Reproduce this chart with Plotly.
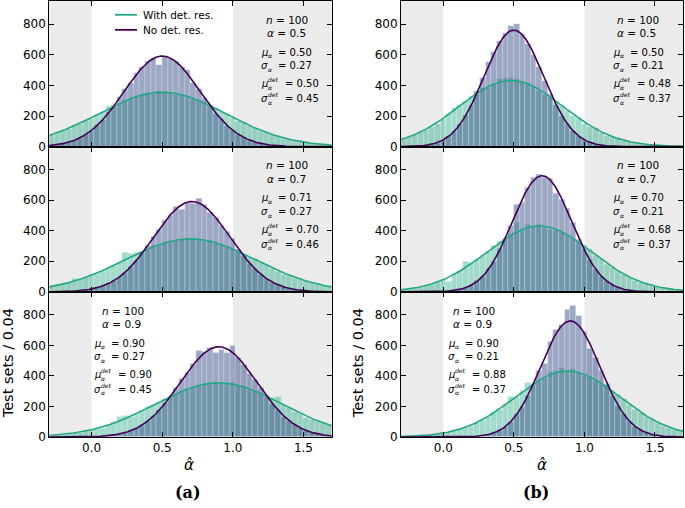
import numpy as np
import plotly.graph_objects as go
from plotly.subplots import make_subplots

W, H = 685, 508
BIN = 0.04
N_SETS = 10000
bin_centers = np.round(np.arange(-0.32, 1.7201, BIN), 2)  # 52 bin centres

# ---- histogram counts per 0.04 bin ----
a1_det = [62, 75, 95, 100, 118, 140, 148, 165, 180, 205,
          225, 268, 272, 280, 302, 312, 330, 335, 350, 345,
          360, 352, 348, 340, 335, 325, 310, 298, 290, 262,
          250, 225, 215, 188, 170, 160, 135, 125, 100, 95,
          78, 68, 55, 50, 38, 35, 25, 22, 16, 14, 10, 8]
a1_nodet = [5, 9, 13, 22, 28, 44, 57, 82, 104, 141,
            172, 224, 262, 325, 378, 418, 482, 522, 556, 580,
            532, 590, 575, 556, 520, 500, 416, 378, 315, 270,
            214, 180, 134, 108, 78, 61, 40, 31, 19, 14,
            8, 6, 3, 2, 1, 1, 0, 0, 0, 0, 0, 0]
b1_det = [40, 50, 62, 78, 95, 110, 130, 150, 178, 215,
          250, 275, 300, 330, 345, 380, 385, 410, 440, 450,
          445, 440, 420, 415, 395, 365, 340, 320, 290, 265,
          235, 200, 190, 150, 128, 125, 90, 72, 62, 50,
          40, 30, 24, 18, 14, 10, 8, 5, 4, 3, 2, 1]
b1_nodet = [0, 1, 1, 3, 5, 9, 18, 27, 46, 68,
            105, 150, 208, 270, 360, 445, 555, 615, 690, 740,
            790, 798, 735, 670, 600, 520, 430, 345, 270, 200,
            150, 100, 72, 44, 29, 16, 10, 6, 3, 2,
            1, 0, 0, 0, 0, 0, 0, 0, 0, 0, 0, 0]
a2_det = [28, 35, 45, 50, 62, 85, 80, 90, 112, 118,
          135, 150, 170, 190, 258, 250, 255, 262, 275, 300,
          305, 325, 330, 338, 340, 350, 345, 342, 330, 335,
          315, 305, 290, 285, 260, 240, 225, 215, 190, 180,
          150, 135, 115, 108, 92, 80, 70, 58, 52, 42, 35, 28]
a2_nodet = [0, 1, 1, 2, 3, 5, 8, 12, 19, 28,
            38, 55, 72, 101, 128, 168, 205, 258, 300, 362,
            405, 465, 500, 555, 540, 575, 578, 608, 570, 520,
            488, 430, 392, 345, 275, 235, 185, 150, 112, 88,
            62, 47, 32, 23, 15, 10, 7, 4, 3, 2, 1, 0]
b2_det = [10, 14, 18, 26, 30, 40, 50, 62, 70, 65,
          118, 140, 195, 190, 210, 235, 265, 300, 330, 350,
          375, 450, 405, 440, 425, 440, 420, 410, 400, 385,
          365, 345, 320, 300, 275, 235, 215, 180, 158, 140,
          112, 95, 75, 62, 50, 40, 30, 25, 18, 14, 10, 7]
b2_nodet = [0, 0, 0, 0, 0, 0, 1, 1, 3, 5,
            9, 18, 27, 46, 70, 100, 150, 200, 280, 350,
            435, 570, 585, 685, 750, 765, 745, 740, 640, 600,
            545, 450, 340, 275, 210, 145, 100, 70, 44, 28,
            16, 10, 5, 3, 2, 1, 0, 0, 0, 0, 0, 0]
a3_det = [8, 10, 15, 17, 22, 28, 30, 38, 45, 55,
          62, 82, 100, 135, 140, 135, 150, 170, 195, 212,
          225, 250, 265, 280, 300, 312, 330, 335, 350, 345,
          355, 350, 345, 352, 335, 330, 312, 302, 280, 268,
          258, 260, 210, 190, 165, 150, 125, 112, 100, 92, 80, 66]
a3_nodet = [0, 0, 0, 0, 0, 0, 0, 1, 2, 4,
            6, 9, 13, 22, 28, 44, 57, 82, 104, 140,
            175, 225, 262, 322, 380, 420, 480, 565, 560, 582,
            548, 570, 552, 598, 520, 470, 415, 375, 320, 262,
            215, 178, 135, 108, 80, 57, 42, 30, 20, 14, 9, 5]
b3_det = [2, 3, 4, 6, 8, 10, 15, 18, 25, 30,
          40, 55, 62, 75, 90, 115, 130, 165, 180, 220,
          265, 262, 300, 355, 340, 370, 380, 425, 430, 450,
          425, 445, 420, 400, 395, 370, 340, 345, 300, 275,
          250, 210, 180, 155, 135, 120, 100, 75, 62, 50, 40, 30]
b3_nodet = [0, 0, 0, 0, 0, 0, 0, 0, 0, 0,
            0, 1, 2, 3, 5, 9, 17, 30, 44, 68,
            100, 150, 200, 270, 350, 430, 480, 620, 700, 735,
            830, 858, 790, 690, 580, 520, 430, 340, 270, 205,
            150, 100, 65, 45, 28, 16, 10, 5, 3, 2, 1, 0]

# ---- fitted gaussian parameters (shown in each panel) ----
alpha_true = [0.5, 0.5, 0.7, 0.7, 0.9, 0.9]
mu_nodet = [0.50, 0.50, 0.71, 0.70, 0.90, 0.90]
sig_nodet = [0.27, 0.21, 0.27, 0.21, 0.27, 0.21]
mu_det = [0.50, 0.48, 0.70, 0.68, 0.90, 0.88]
sig_det = [0.45, 0.37, 0.46, 0.37, 0.45, 0.37]
hist_det = [a1_det, b1_det, a2_det, b2_det, a3_det, b3_det]
hist_nodet = [a1_nodet, b1_nodet, a2_nodet, b2_nodet, a3_nodet, b3_nodet]

TEAL = "#22a884"
PURPLE = "#440154"
TEAL_BAR = "rgba(34,168,132,0.42)"
PURPLE_BAR = "rgba(59,82,139,0.5)"
GRAY = "#ebebeb"
FONT = "DejaVu Sans"

# pixel layout
col_px = [(49.2, 331.7), (401.0, 683.2)]
row_px = [(0.0, 148.0), (148.0, 295.5), (295.5, 443.0)]

def px(x):
    return x / W

def py(y):
    return 1 - y / H

fig = make_subplots(rows=3, cols=2, vertical_spacing=0, horizontal_spacing=0.1)
xfine = np.linspace(-0.3, 1.7, 400)

def gauss(mu, s):
    return N_SETS * BIN / (s * np.sqrt(2 * np.pi)) * np.exp(-(xfine - mu) ** 2 / (2 * s * s))

shapes = []
annotations = []

def ann(x, y, text, size, xanchor="left", **kw):
    d = dict(x=px(x), y=py(y), xref="paper", yref="paper", text=text, showarrow=False,
             xanchor=xanchor, yanchor="middle", borderpad=0, borderwidth=0,
             font=dict(family=FONT, size=size, color="black"))
    d.update(kw)
    annotations.append(d)

FS = 10.0
SFS = 6.0

def param_line(lx, yc, sym, value, det):
    ann(lx, yc, f"<i>{sym}</i>", FS)
    ann(lx + 7.3, yc + 3.75, "<i>α</i>", SFS)
    if det:
        ann(lx + 7.3, yc - 3.75, "<i>det</i>", SFS)
        ann(lx + 24.0, yc, f"= {value:.2f}", FS)
    else:
        ann(lx + 17.0, yc, f"= {value:.2f}", FS)

for k in range(6):
    r, c = k // 2 + 1, k % 2 + 1
    idx = k + 1
    xs = "x" if idx == 1 else f"x{idx}"
    ys = "y" if idx == 1 else f"y{idx}"
    fig.add_trace(go.Bar(x=bin_centers, y=hist_det[k], width=BIN, marker_color=TEAL_BAR,
                         marker_line=dict(color="rgba(255,255,255,0.35)", width=0.6),
                         showlegend=False, name="With det. res."), row=r, col=c)
    fig.add_trace(go.Bar(x=bin_centers, y=hist_nodet[k], width=BIN, marker_color=PURPLE_BAR,
                         marker_line=dict(color="rgba(255,255,255,0.35)", width=0.6),
                         showlegend=False, name="No det. res."), row=r, col=c)
    fig.add_trace(go.Scatter(x=xfine, y=gauss(mu_det[k], sig_det[k]), mode="lines",
                             line=dict(color=TEAL, width=1.6), showlegend=False,
                             name="With det. res."), row=r, col=c)
    fig.add_trace(go.Scatter(x=xfine, y=gauss(mu_nodet[k], sig_nodet[k]), mode="lines",
                             line=dict(color=PURPLE, width=1.6), showlegend=False,
                             name="No det. res."), row=r, col=c)
    x0, x1 = col_px[c - 1]
    y0, y1 = row_px[r - 1]
    xa = dict(domain=[px(x0), px(x1)], range=[-0.3, 1.7], tickvals=[0, 0.5, 1.0, 1.5],
              ticktext=["0.0", "0.5", "1.0", "1.5"], ticks="inside", ticklen=5,
              tickcolor="black", showline=True, linecolor="black", linewidth=1,
              mirror="allticks", showgrid=False, zeroline=False,
              showticklabels=(r == 3), tickfont=dict(family=FONT, size=12, color="black"),
              anchor=ys)
    ya = dict(domain=[py(y1), py(y0)], range=[0, 950], tickvals=[0, 200, 400, 600, 800],
              ticks="inside", ticklen=5, tickcolor="black", showline=True,
              linecolor="black", linewidth=1, mirror="allticks", showgrid=False,
              zeroline=False, tickfont=dict(family=FONT, size=12, color="black"),
              anchor=xs)
    fig.layout["xaxis" if idx == 1 else f"xaxis{idx}"].update(xa)
    fig.layout["yaxis" if idx == 1 else f"yaxis{idx}"].update(ya)
    for (a, b) in [(-0.3, 0.0), (1.0, 1.7)]:
        shapes.append(dict(type="rect", xref=xs, yref=f"{ys} domain", x0=a, x1=b, y0=0, y1=1,
                           fillcolor=GRAY, line=dict(width=0), layer="below"))

    # parameter text
    if c == 1 and r < 3:
        cx1, cx2, lx = 287.0, 286.0, 261.0
    elif c == 2 and r < 3:
        cx1, cx2, lx = 638.3, 636.7, 613.0
    elif c == 1:
        cx1, cx2, lx = 122.5, 121.7, 94.0
    else:
        cx1, cx2, lx = 474.2, 472.8, 448.0
    top = y0
    offs = [19, 33, 52, 66, 84, 99]
    ann(cx1, top + offs[0], "<i>n</i> = 100", 10.5, xanchor="center")
    ann(cx2, top + offs[1], f"<i>α</i> = {alpha_true[k]}", 10.5, xanchor="center")
    param_line(lx, top + offs[2], "μ", mu_nodet[k], False)
    param_line(lx, top + offs[3], "σ", sig_nodet[k], False)
    param_line(lx, top + offs[4], "μ", mu_det[k], True)
    param_line(lx, top + offs[5], "σ", sig_det[k], True)

# manual legend in the top-left panel
for yy, col, lab in [(14, TEAL, "With det. res."), (29.3, PURPLE, "No det. res.")]:
    shapes.append(dict(type="line", xref="paper", yref="paper", x0=px(115), x1=px(137),
                       y0=py(yy), y1=py(yy), line=dict(color=col, width=1.8)))
    ann(143, yy, lab, 10.5)

# axis titles and panel labels
for xc in [8, 358]:
    ann(xc, 368, "Test sets / 0.04", 14.5, xanchor="center", textangle=-90)
for xc in [189, 541.5]:
    ann(xc, 471, "<i>α̂</i>", 15, xanchor="center")
for xc, lab in [(187.5, "(a)"), (536, "(b)")]:
    ann(xc, 499, f"<b>{lab}</b>", 16, xanchor="center",
        font=dict(family="DejaVu Serif", size=16, color="black"))

fig.update_layout(width=W, height=H, margin=dict(l=0, r=0, t=0, b=0), autosize=False,
                  barmode="overlay", bargap=0, paper_bgcolor="white", plot_bgcolor="white",
                  shapes=shapes, annotations=annotations, showlegend=False)
fig.write_html("out.html", config={"displayModeBar": False},
               post_script="document.body.style.margin='0px';document.body.style.padding='0px';document.body.style.overflow='hidden';")
